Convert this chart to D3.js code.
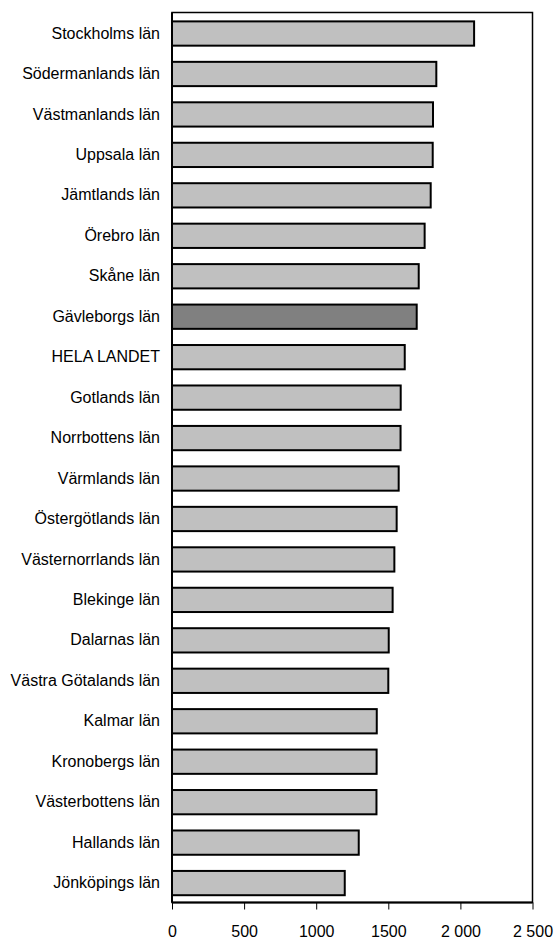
<!DOCTYPE html>
<html>
<head>
<meta charset="utf-8">
<script src="https://cdn.jsdelivr.net/npm/d3@7"></script>
<style>
  body { margin: 0; background: #fff; }
  text { font-family: "Liberation Sans", Arial, sans-serif; }
</style>
</head>
<body>
<script>
var counties = [
  "Stockholms län", "Södermanlands län", "Västmanlands län", "Uppsala län",
  "Jämtlands län", "Örebro län", "Skåne län", "Gävleborgs län", "HELA LANDET",
  "Gotlands län", "Norrbottens län", "Värmlands län", "Östergötlands län",
  "Västernorrlands län", "Blekinge län", "Dalarnas län", "Västra Götalands län",
  "Kalmar län", "Kronobergs län", "Västerbottens län", "Hallands län", "Jönköpings län"
];
var values = [
  2095, 1833, 1810, 1808,
  1794, 1752, 1711, 1697, 1614,
  1586, 1585, 1572, 1558,
  1542, 1530, 1503, 1500,
  1420, 1419, 1418, 1295, 1198
];
var highlighted = ["Gävleborgs län"];
var xTicks = [0, 500, 1000, 1500, 2000, 2500];
var xTickLabels = ["0", "500", "1000", "1500", "2 000", "2 500"];

function drawChart() {
  var width = 557;
  var height = 942;
  var left = 172, right = 532.5, top = 12.5, bottom = 902.5;

  var svg = d3.select("body")
    .append("svg")
    .attr("width", width)
    .attr("height", height);

  var data = counties.map(function (c, i) { return { name: c, value: values[i] }; });

  var x = d3.scaleLinear().domain([0, 2500]).range([left, right]);
  var y = d3.scaleBand().domain(counties)
    .range([top + 0.8, bottom + 0.8])
    .paddingInner(0.4)
    .paddingOuter(0.2);

  // bars
  svg.append("g")
    .selectAll("rect")
    .data(data)
    .enter()
    .append("rect")
      .attr("x", x(0))
      .attr("y", function (d) { return y(d.name); })
      .attr("width", function (d) { return x(d.value) - x(0); })
      .attr("height", y.bandwidth())
      .attr("fill", function (d) { return highlighted.indexOf(d.name) >= 0 ? "#808080" : "#c0c0c0"; })
      .attr("stroke", "#000")
      .attr("stroke-width", 2);

  // frame
  svg.append("rect")
    .attr("x", left)
    .attr("y", top)
    .attr("width", right - left)
    .attr("height", bottom - top)
    .attr("fill", "none")
    .attr("stroke", "#000")
    .attr("stroke-width", 1.5);

  // y axis line
  svg.append("line")
    .attr("x1", left).attr("x2", left)
    .attr("y1", top).attr("y2", bottom)
    .attr("stroke", "#000")
    .attr("stroke-width", 2);

  // category labels
  var yAxis = svg.append("g")
    .attr("transform", "translate(" + left + ",0)")
    .call(d3.axisLeft(y).tickSize(0).tickPadding(12));
  yAxis.select(".domain").remove();
  yAxis.selectAll("text")
    .attr("font-family", "'Liberation Sans', Arial, sans-serif")
    .attr("font-size", "16px")
    .attr("fill", "#000");

  // x axis
  var xAxis = svg.append("g")
    .attr("transform", "translate(0," + bottom + ")")
    .call(d3.axisBottom(x)
      .tickValues(xTicks)
      .tickSize(7)
      .tickPadding(16)
      .tickFormat(function (d, i) { return xTickLabels[i]; }));
  xAxis.select(".domain").attr("stroke-width", 2).attr("d", "M" + left + ",0H" + right);
  xAxis.selectAll(".tick line").attr("stroke", "#000");
  xAxis.selectAll("text")
    .attr("font-family", "'Liberation Sans', Arial, sans-serif")
    .attr("font-size", "16px")
    .attr("fill", "#000");
}

drawChart();
</script>
</body>
</html>
